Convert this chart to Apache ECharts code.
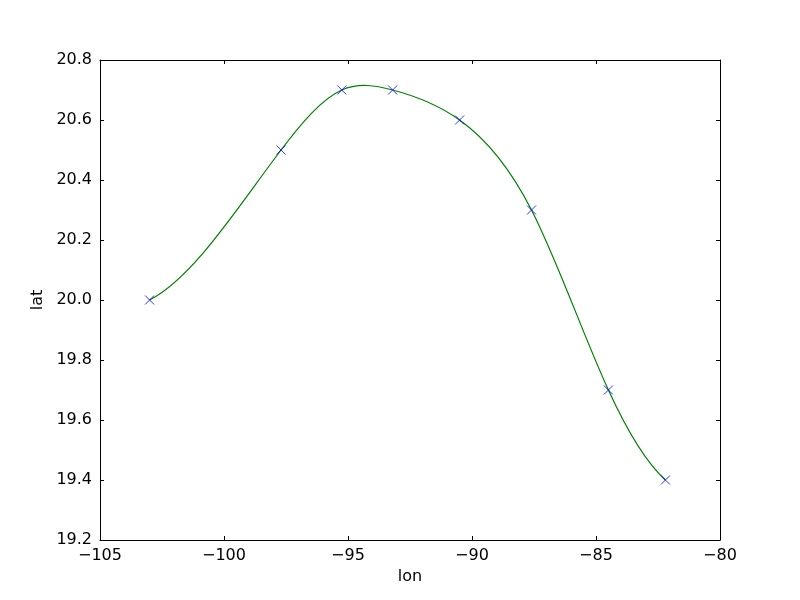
<!DOCTYPE html>
<html><head><meta charset="utf-8">
<script src="https://cdn.jsdelivr.net/npm/echarts@6/dist/echarts.min.js"></script>
<style>html,body{margin:0;padding:0;background:#fff}#c{width:800px;height:600px}</style>
</head><body><div id="c"></div>
<script>
const lon = [-103.0, -97.7, -95.25, -93.2, -90.5, -87.6, -84.5, -82.2];
const lat = [20.0, 20.5, 20.7, 20.7, 20.6, 20.3, 19.7, 19.4];
const xTicks = [-105, -100, -95, -90, -85, -80];
const yTicks = [19.2, 19.4, 19.6, 19.8, 20.0, 20.2, 20.4, 20.6, 20.8];

const pts = lon.map((x, i) => [x, lat[i]]);

function solve(A, b) {
  const n = b.length;
  A = A.map(r => r.slice()); b = b.slice();
  for (let c = 0; c < n; c++) {
    let p = c;
    for (let r = c + 1; r < n; r++) if (Math.abs(A[r][c]) > Math.abs(A[p][c])) p = r;
    [A[c], A[p]] = [A[p], A[c]]; [b[c], b[p]] = [b[p], b[c]];
    for (let r = c + 1; r < n; r++) {
      const f = A[r][c] / A[c][c];
      for (let k = c; k < n; k++) A[r][k] -= f * A[c][k];
      b[r] -= f * b[c];
    }
  }
  const x = new Array(n).fill(0);
  for (let r = n - 1; r >= 0; r--) {
    let s = b[r];
    for (let k = r + 1; k < n; k++) s -= A[r][k] * x[k];
    x[r] = s / A[r][r];
  }
  return x;
}
// "Smoothest" cubic spline: second derivatives minimising the integral of f'''^2,
// used only to shape the rendered curve between the data points.
function splineSecondDerivs(x, y) {
  const n = x.length, h = [];
  for (let i = 0; i < n - 1; i++) h.push(x[i+1] - x[i]);
  const N = n + (n - 2);
  const A = [], b = [];
  for (let r = 0; r < N; r++) { A.push(new Array(N).fill(0)); b.push(0); }
  for (let i = 0; i < n - 1; i++) {
    const w = 2 / h[i];
    A[i][i] += w; A[i+1][i+1] += w; A[i][i+1] -= w; A[i+1][i] -= w;
  }
  for (let i = 1; i < n - 1; i++) {
    const r = n + i - 1;
    A[r][i-1] = h[i-1]; A[r][i] = 2 * (h[i-1] + h[i]); A[r][i+1] = h[i];
    A[i-1][r] = h[i-1]; A[i][r] = 2 * (h[i-1] + h[i]); A[i+1][r] = h[i];
    b[r] = 6 * ((y[i+1] - y[i]) / h[i] - (y[i] - y[i-1]) / h[i-1]);
  }
  return solve(A, b).slice(0, n);
}
const M2 = splineSecondDerivs(lon, lat);

const fmtMinus = v => String(v).replace('-', '\u2212');
const font = 'DejaVu Sans';
const fs = 16;
const baseAxis = {
  axisLine: {show: true, onZero: false, lineStyle: {color: '#000', width: 1}},
  axisTick: {show: true, inside: true, length: 4, lineStyle: {color: '#000'}},
  splitLine: {show: false}
};
const chart = echarts.init(document.getElementById('c'), null, {renderer: 'canvas'});
chart.setOption({
  animation: false,
  backgroundColor: '#fff',
  grid: {left: 100, right: 80, top: 60, bottom: 60, containLabel: false},
  xAxis: [
    Object.assign({}, baseAxis, {type: 'value', position: 'bottom', min: xTicks[0], max: xTicks[xTicks.length-1], interval: 5,
      name: 'lon', nameLocation: 'middle', nameGap: 27, nameTextStyle: {fontFamily: font, fontSize: fs, color: '#000'},
      axisLabel: {fontFamily: font, fontSize: fs, color: '#000', margin: 8, formatter: fmtMinus}}),
    Object.assign({}, baseAxis, {type: 'value', position: 'top', min: xTicks[0], max: xTicks[xTicks.length-1], interval: 5,
      axisLabel: {show: false}})
  ],
  yAxis: [
    Object.assign({}, baseAxis, {type: 'value', position: 'left', min: yTicks[0], max: yTicks[yTicks.length-1], interval: 0.2,
      name: 'lat', nameLocation: 'middle', nameGap: 52, nameRotate: 90, nameTextStyle: {fontFamily: font, fontSize: fs, color: '#000'},
      axisLabel: {fontFamily: font, fontSize: fs, color: '#000', margin: 8, formatter: v => v.toFixed(1)}}),
    Object.assign({}, baseAxis, {type: 'value', position: 'right', min: yTicks[0], max: yTicks[yTicks.length-1], interval: 0.2,
      axisLabel: {show: false}})
  ],
  series: [
    {type: 'custom', data: pts, xAxisIndex: 0, yAxisIndex: 0, z: 2, clip: true,
     renderItem: function (params, api) {
       const i = params.dataIndex;
       if (i >= lon.length - 1) return null;
       const h = lon[i+1] - lon[i];
       const d = (lat[i+1] - lat[i]) / h;
       const m0 = d - h * (2 * M2[i] + M2[i+1]) / 6;
       const m1 = d + h * (M2[i] + 2 * M2[i+1]) / 6;
       const p0 = api.coord([lon[i], lat[i]]);
       const c1 = api.coord([lon[i] + h / 3, lat[i] + m0 * h / 3]);
       const c2 = api.coord([lon[i+1] - h / 3, lat[i+1] - m1 * h / 3]);
       const p1 = api.coord([lon[i+1], lat[i+1]]);
       return {type: 'bezierCurve',
         shape: {x1: p0[0], y1: p0[1], cpx1: c1[0], cpy1: c1[1], cpx2: c2[0], cpy2: c2[1], x2: p1[0], y2: p1[1]},
         style: {stroke: '#008000', fill: null, lineWidth: 1.2}};
     }},
    {type: 'scatter', data: pts, symbol: 'path://M0,0L10,10M10,0L0,10', symbolSize: 9,
     itemStyle: {color: 'rgba(0,0,0,0)', borderColor: '#0000ff', borderWidth: 1}, xAxisIndex: 0, yAxisIndex: 0, z: 3}
  ]
});
</script></body></html>
